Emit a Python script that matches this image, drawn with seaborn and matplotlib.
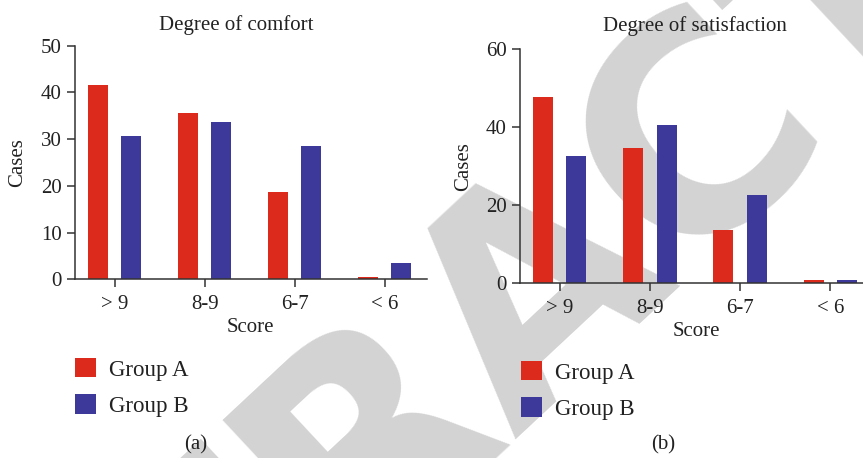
import matplotlib
matplotlib.use("Agg")
import matplotlib.pyplot as plt
import pandas as pd
import seaborn as sns

# data
scores = ["> 9", "8-9", "6-7", "< 6"]
groups = ["Group A", "Group B"]
comfort_a = [41.6, 35.5, 18.6, 0.5]
comfort_b = [30.6, 33.6, 28.5, 3.4]
satisfaction_a = [47.7, 34.6, 13.5, 0.7]
satisfaction_b = [32.5, 40.5, 22.5, 0.7]

colors = {"Group A": "#dc2b1c", "Group B": "#3c399b"}


def long_frame(a_vals, b_vals):
    rows = []
    for s, a, b in zip(scores, a_vals, b_vals):
        rows.append({"Score": s, "Group": "Group A", "Cases": a})
        rows.append({"Score": s, "Group": "Group B", "Cases": b})
    return pd.DataFrame(rows)


sns.set_style("ticks")
plt.rcParams["font.family"] = ["Liberation Serif", "DejaVu Serif"]
plt.rcParams["font.size"] = 15

W, H = 863, 458
fig = plt.figure(figsize=(W / 100, H / 100), dpi=100)

# watermark behind everything
fig.text(538 / W, 1 - 282 / H, "RETRACTED", rotation=43, fontsize=212,
         fontweight="bold", family="DejaVu Sans", color="#d3d3d3",
         ha="center", va="center", rotation_mode="anchor", zorder=-5)

panels = [
    dict(a=comfort_a, b=comfort_b, rect=[75, 45.7, 352, 233.6], ylim=50, step=10,
         title="Degree of comfort", tx=236, ty=25, leg=(75, 358), tag="(a)", tagx=196,
         xlab=(250, 328), ylab=(18, 163)),
    dict(a=satisfaction_a, b=satisfaction_b, rect=[520, 49, 352.8, 233.7], ylim=60, step=20,
         title="Degree of satisfaction", tx=695, ty=26, leg=(521, 361), tag="(b)", tagx=663,
         xlab=(696, 332), ylab=(464, 167)),
]

for p in panels:
    x0, y0, w, h = p["rect"]
    ax = fig.add_axes([x0 / W, 1 - (y0 + h) / H, w / W, h / H])
    ax.set_facecolor("none")
    df = long_frame(p["a"], p["b"])
    sns.barplot(data=df, x="Score", y="Cases", hue="Group", palette=colors,
                saturation=1, linewidth=0, width=0.74, gap=0.4, ax=ax, zorder=2)
    ax.set_xlim(-0.44, 3.47)
    ax.set_ylim(0, p["ylim"])
    ax.set_yticks(range(0, p["ylim"] + 1, p["step"]))
    sns.despine(ax=ax)
    for side in ["left", "bottom"]:
        ax.spines[side].set_color("#333333")
        ax.spines[side].set_linewidth(1.1)
    ax.tick_params(length=5.5, width=1.1, color="#333333", pad=4, labelsize=15,
                   labelcolor="#222222")
    ax.tick_params(axis="x", pad=6)

    ax.set_xlabel("Score", fontsize=15, color="#222222")
    ax.set_ylabel("Cases", fontsize=15, color="#222222")
    ax.xaxis.label.set_verticalalignment("center")
    ax.yaxis.label.set_verticalalignment("center")
    ax.xaxis.set_label_coords((p["xlab"][0] - x0) / w, (y0 + h - p["xlab"][1]) / h)
    ax.yaxis.set_label_coords((p["ylab"][0] - x0) / w, (y0 + h - p["ylab"][1]) / h)

    fig.text(p["tx"] / W, 1 - p["ty"] / H, p["title"], ha="center", va="center",
             fontsize=15, color="#222222")
    fig.text(p["tagx"] / W, 1 - 445 / H, p["tag"], ha="center", va="center",
             fontsize=15, color="#222222")

    handles, labels = ax.get_legend_handles_labels()
    ax.legend(handles, labels, loc="upper left",
              bbox_to_anchor=(p["leg"][0] / W, 1 - p["leg"][1] / H),
              bbox_transform=fig.transFigure, frameon=False, fontsize=16.5,
              borderpad=0, borderaxespad=0, handlelength=0.92, handleheight=0.92,
              handletextpad=0.57, labelspacing=0.6, labelcolor="#222222")

fig.savefig("out.png", dpi=100)
